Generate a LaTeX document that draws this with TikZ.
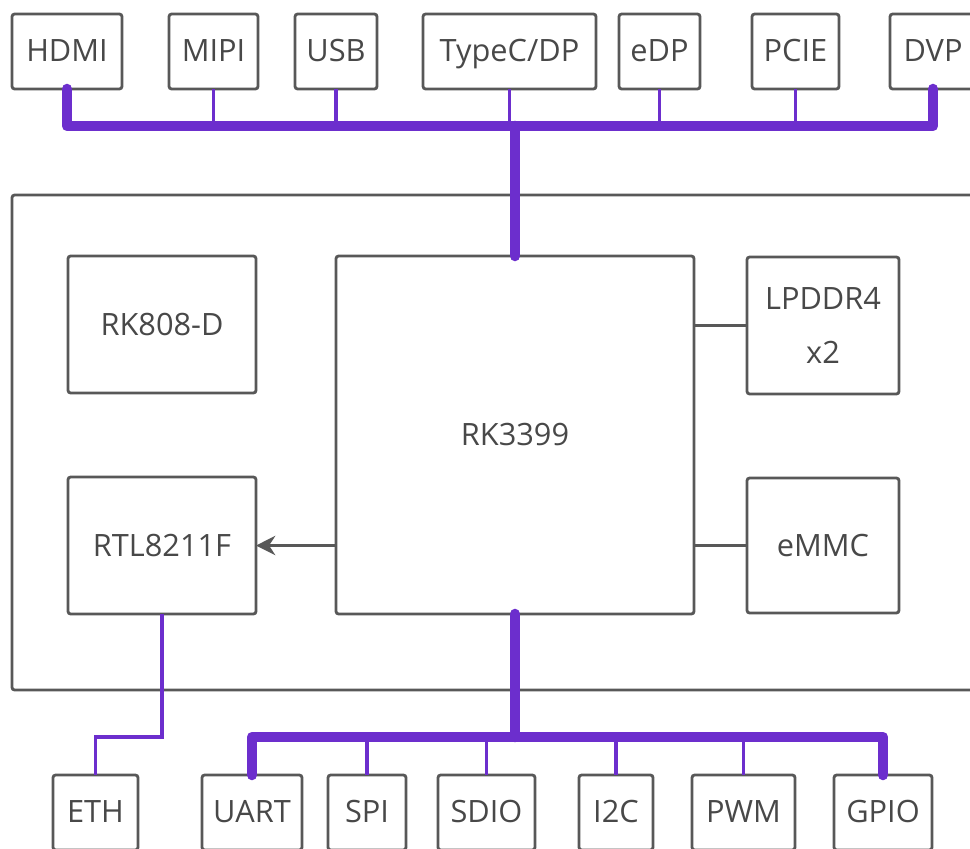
\documentclass[tikz,border=0pt]{standalone}
\usepackage{fontspec}
\setmainfont{Open Sans}
\usepackage{xcolor}
\usepackage{tikz}
\usetikzlibrary{arrows.meta,positioning}
\definecolor{busviolet}{RGB}{108,46,205}
\definecolor{edgegray}{RGB}{88,88,88}
\definecolor{labelgray}{RGB}{72,72,72}

\begin{document}
\begin{tikzpicture}[x=0.2mm, y=-0.2mm,
  font=\fontsize{17.5}{31}\selectfont,
  box/.style={draw=edgegray, line width=1.6pt, rounded corners=1.5pt,
              text=labelgray, align=center, inner sep=0pt, outer sep=0pt},
  port/.style={box, minimum height=15mm, text height=12.5pt, text depth=1pt},
  bus/.style={draw=busviolet, line width=6pt, line cap=round, line join=round},
  tap/.style={draw=busviolet, line width=2pt},
  link/.style={draw=edgegray, line width=1.4pt},
  arr/.style={link, -{Stealth[length=11pt, width=11pt]}}]
\useasboundingbox (0,0) rectangle (970,848);
\node[box, minimum width=195.6mm, minimum height=99mm] (board) at (501,442.5) {};
% top interfaces
\node[port, minimum width=22mm] (hdmi) at (67,51.5) {HDMI};
\node[port, minimum width=17.8mm, right=9.4mm of hdmi] (mipi) {MIPI};
\node[port, minimum width=16.4mm, right=7.4mm of mipi] (usb) {USB};
\node[port, minimum width=34.6mm, right=9.2mm of usb] (typec) {TypeC/DP};
\node[port, minimum width=16.2mm, right=4.6mm of typec] (edp) {eDP};
\node[port, minimum width=17.4mm, right=10.4mm of edp] (pcie) {PCIE};
\node[port, minimum width=17.2mm, right=10.2mm of pcie] (dvp) {DVP};
% board
\node[box, minimum width=71.6mm, minimum height=71.6mm] (soc) at (515,435) {RK3399};
\node[box, minimum width=37.6mm, minimum height=27.4mm] (pmic) at (162,324.5) {RK808-D};
\node[box, minimum width=37.6mm, minimum height=27.4mm] (phy) at (162,545.5) {RTL8211F};
\node[box, minimum width=30.4mm, minimum height=27.4mm] (ddr) at (823,325.5) {LPDDR4\\x2};
\node[box, minimum width=30.4mm, minimum height=27mm] (emmc) at (823,545.5) {eMMC};
% bottom interfaces
\node[port, minimum width=17mm] (eth) at (95.5,812.5) {ETH};
\node[port, minimum width=20mm, right=12.8mm of eth] (uart) {UART};
\node[port, minimum width=15.6mm, right=5.2mm of uart] (spi) {SPI};
\node[port, minimum width=19.4mm, right=6.4mm of spi] (sdio) {SDIO};
\node[port, minimum width=14.8mm, right=8.8mm of sdio] (iic) {I2C};
\node[port, minimum width=20.6mm, right=7.8mm of iic] (pwm) {PWM};
\node[port, minimum width=19.6mm, right=7.8mm of pwm] (gpio) {GPIO};
\coordinate (topbus) at (515,126);
\coordinate (botbus) at (515,737);
\foreach \p in {mipi,usb,typec,edp,pcie}
  \draw[tap] (\p.south) -- (\p.south |- topbus);
\foreach \p in {spi,sdio,iic,pwm}
  \draw[tap] (\p.north) -- (\p.north |- botbus);
\draw[bus] (hdmi.south) |- (topbus) -| (dvp.south);
\draw[bus] (topbus) -- (soc.north);
\draw[bus] (uart.north) |- (botbus) -| (gpio.north);
\draw[bus] (soc.south) -- (botbus);
\draw[tap] (phy.south) -- (phy.south |- botbus) -| (eth.north);
\draw[link] (ddr.west) -- (ddr.west -| soc.east);
\draw[link] (emmc.west) -- (emmc.west -| soc.east);
\draw[arr] (soc.west |- phy.east) -- (phy.east);
\end{tikzpicture}
\end{document}
